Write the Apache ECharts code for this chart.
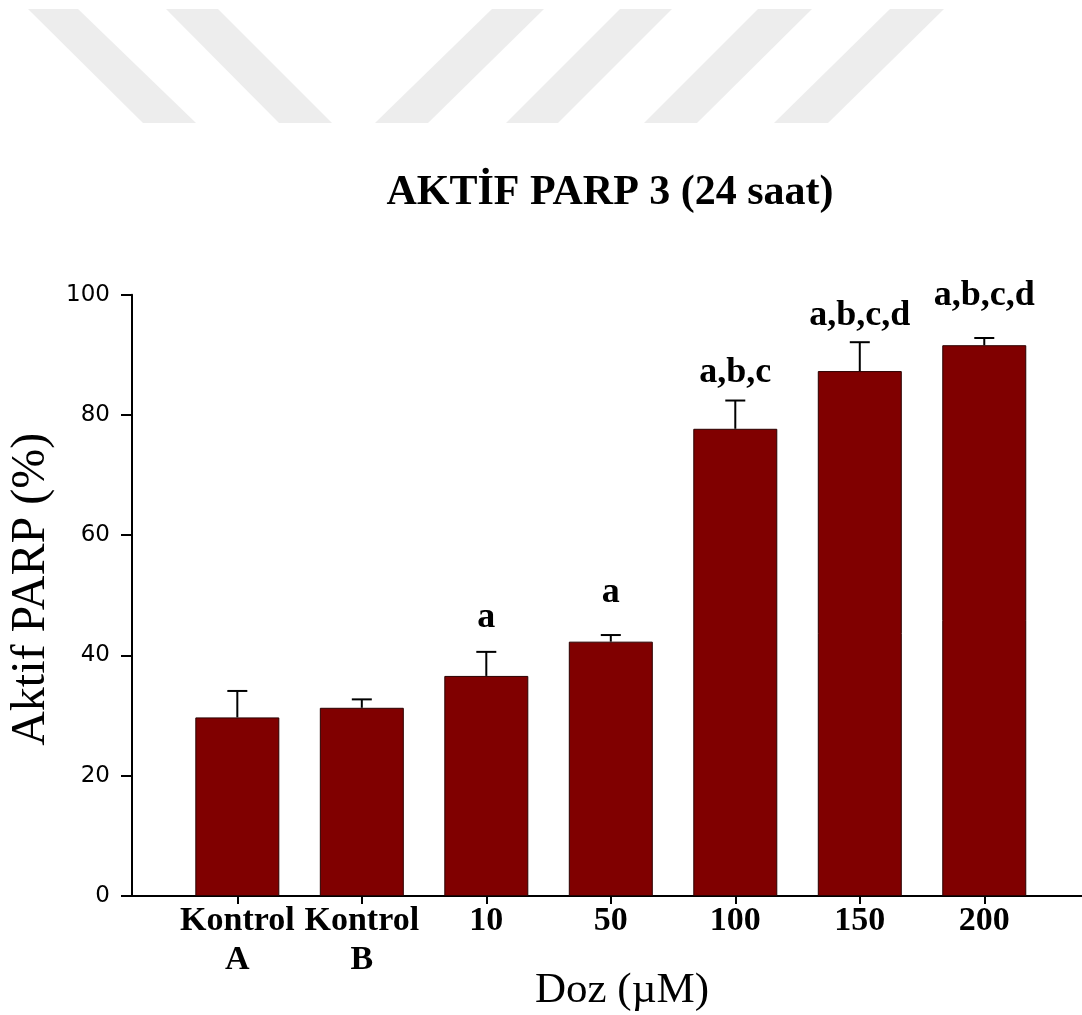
<!DOCTYPE html>
<html>
<head>
<meta charset="utf-8">
<script src="https://cdn.jsdelivr.net/npm/echarts@6/dist/echarts.min.js"></script>
<style>
html,body{margin:0;padding:0;background:#fff;}
#chart{width:1082px;height:1015px;}
</style>
</head>
<body>
<div id="chart"></div>
<script>
// ---- data ----
var categories = ['Kontrol\nA', 'Kontrol\nB', '10', '50', '100', '150', '200'];
var means = [29.7, 31.3, 36.6, 42.3, 77.7, 87.3, 91.6];
var sems = [4.4, 1.4, 4.0, 1.1, 4.7, 4.8, 1.2];
var sigLetters = ['', '', 'a', 'a', 'a,b,c', 'a,b,c,d', 'a,b,c,d'];
var sigLabelY = [null, null, 46.2, 50.4, 87.0, 96.5, 99.8];
var yTicks = [0, 20, 40, 60, 80, 100];

var idx = categories.map(function (c, i) { return i; });
var barData = means.map(function (m, i) { return [i, m]; });
var errData = means.map(function (m, i) { return [i, m, m + sems[i]]; });
var sigData = [];
sigLetters.forEach(function (s, i) { if (s) sigData.push([i, sigLabelY[i], s]); });

var chart = echarts.init(document.getElementById('chart'), null, { renderer: 'canvas' });

var serif = '"Liberation Serif", "Times New Roman", serif';
var stripeColor = '#ededed';
function stripe(p) {
  return { type: 'polygon', silent: true, z: -10, shape: { points: p }, style: { fill: stripeColor } };
}

var option = {
  backgroundColor: '#ffffff',
  animation: false,
  graphic: [
    stripe([[28, 9], [78, 9], [196, 123], [143, 123]]),
    stripe([[166, 9], [218, 9], [332, 123], [279, 123]]),
    stripe([[492, 9], [544, 9], [428, 123], [375, 123]]),
    stripe([[620, 9], [672, 9], [558, 123], [506, 123]]),
    stripe([[758, 9], [812, 9], [697, 123], [644, 123]]),
    stripe([[890, 9], [944, 9], [828, 123], [774, 123]]),
    {
      type: 'text', x: 610, y: 193,
      style: {
        text: 'AKTİF PARP 3 (24 saat)', fill: '#000',
        font: 'bold 42px ' + serif, textAlign: 'center', textVerticalAlign: 'middle'
      }
    }
  ],
  grid: { left: 132, right: 0, top: 294.7, bottom: 119, containLabel: false, outerBoundsMode: 'none' },
  xAxis: {
    type: 'value',
    min: -0.846,
    max: 6.785,
    name: 'Doz (µM)',
    nameLocation: 'middle',
    nameGap: 73,
    nameMoveOverlap: false,
    nameTextStyle: { fontFamily: serif, fontSize: 43, color: '#000', padding: [0, 0, 0, 30] },
    axisLine: { show: true, onZero: false, lineStyle: { color: '#000', width: 2 } },
    axisTick: { show: true, customValues: idx, length: 8, inside: false, lineStyle: { color: '#000', width: 2 } },
    axisLabel: {
      customValues: idx,
      formatter: function (v) { return categories[Math.round(v)]; },
      fontFamily: serif, fontWeight: 'bold', fontSize: 34, color: '#000',
      lineHeight: 39, margin: 6
    },
    splitLine: { show: false }
  },
  yAxis: {
    type: 'value',
    min: 0, max: 100, interval: 20,
    name: 'Aktif PARP (%)',
    nameLocation: 'middle',
    nameGap: 76,
    nameTextStyle: { fontFamily: serif, fontSize: 48, color: '#000', padding: [0, 0, 0, 12] },
    axisLine: { show: true, onZero: false, lineStyle: { color: '#000', width: 2 } },
    axisTick: { show: true, length: 11, inside: false, lineStyle: { color: '#000', width: 2 } },
    axisLabel: { fontFamily: '"DejaVu Sans", sans-serif', fontSize: 23, color: '#000', margin: 22 },
    splitLine: { show: false }
  },
  series: [
    {
      type: 'bar',
      data: barData,
      barWidth: 84,
      itemStyle: { color: '#800000', borderColor: '#2a0000', borderWidth: 1 },
      z: 2
    },
    {
      type: 'custom',
      data: errData,
      z: 3,
      renderItem: function (params, api) {
        var x = api.value(0);
        var lo = api.coord([x, api.value(1)]);
        var hi = api.coord([x, api.value(2)]);
        var cap = 10;
        var st = { stroke: '#000', lineWidth: 2 };
        return {
          type: 'group',
          children: [
            { type: 'line', shape: { x1: lo[0], y1: lo[1], x2: hi[0], y2: hi[1] }, style: st },
            { type: 'line', shape: { x1: hi[0] - cap, y1: hi[1], x2: hi[0] + cap, y2: hi[1] }, style: st }
          ]
        };
      }
    },
    {
      type: 'custom',
      data: sigData,
      z: 4,
      renderItem: function (params, api) {
        var p = api.coord([api.value(0), api.value(1)]);
        return {
          type: 'text',
          x: p[0], y: p[1],
          style: {
            text: sigLetters[Math.round(api.value(0))],
            font: 'bold 36px ' + serif,
            fill: '#000', textAlign: 'center', textVerticalAlign: 'middle'
          }
        };
      }
    }
  ]
};
chart.setOption(option);
</script>
</body>
</html>
